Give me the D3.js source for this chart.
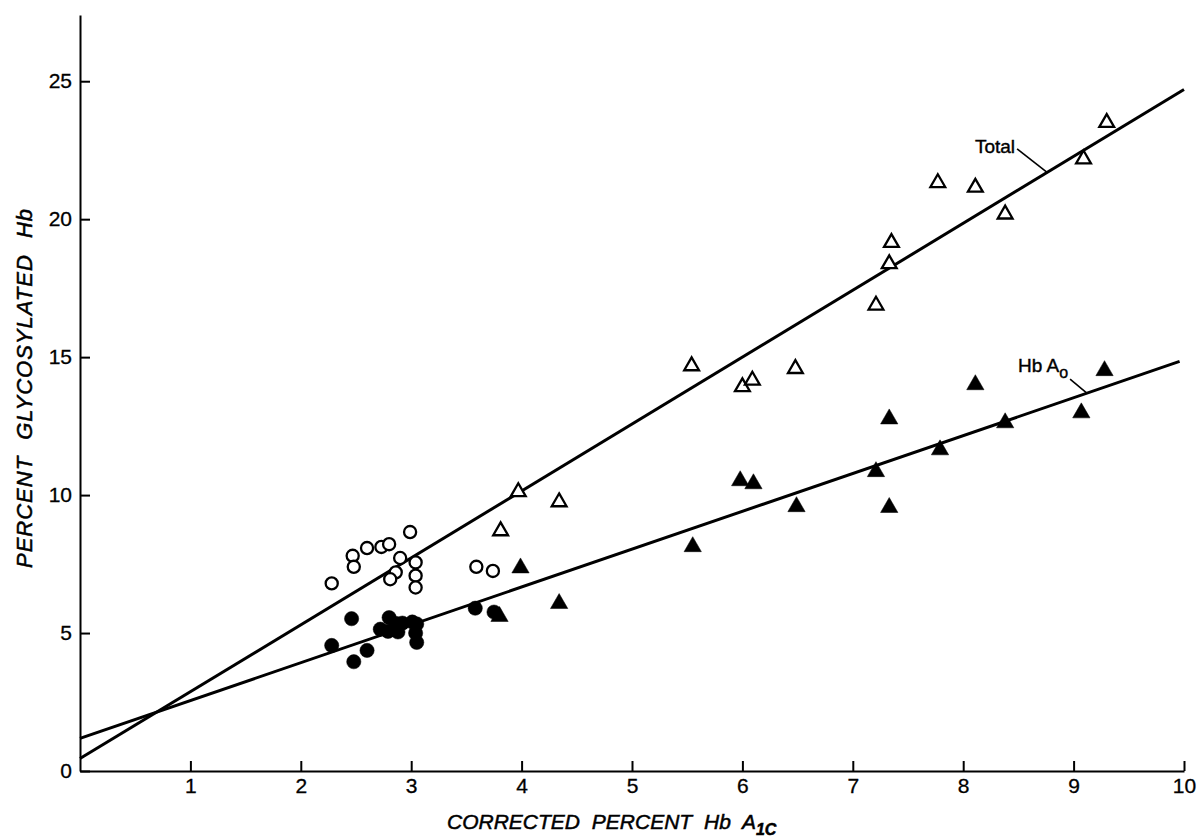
<!DOCTYPE html>
<html>
<head>
<meta charset="utf-8">
<script src="https://cdn.jsdelivr.net/npm/d3@7"></script>
<style>
  body { margin: 0; background: #fff; }
  svg { display: block; }
</style>
</head>
<body>
<div id="chart"></div>
<script>
// data: [corrected % Hb A1c, % glycosylated Hb]
var openCircles = [
    [2.28, 6.80], [2.47, 7.80], [2.48, 7.40], [2.60, 8.08], [2.73, 8.12],
    [2.80, 8.22], [2.99, 8.66], [2.90, 7.72], [2.86, 7.20], [2.81, 6.95],
    [3.04, 7.56], [3.04, 7.08], [3.04, 6.65], [3.59, 7.40], [3.74, 7.25]
];
var filledCircles = [
    [2.28, 4.55], [2.46, 5.52], [2.48, 3.96], [2.60, 4.37], [2.72, 5.14],
    [2.80, 5.56], [2.79, 5.06], [2.86, 5.35], [2.88, 5.04], [2.92, 5.36],
    [3.01, 5.40], [3.05, 5.33], [3.04, 5.00], [3.05, 4.66], [3.58, 5.90],
    [3.75, 5.76]
];
var openTriangles = [
    [3.81, 8.70], [3.97, 10.12], [4.34, 9.75], [5.54, 14.68], [6.00, 13.92],
    [6.09, 14.16], [6.48, 14.58], [7.21, 16.88], [7.33, 18.38], [7.35, 19.15],
    [7.77, 21.32], [8.11, 21.15], [8.38, 20.18], [9.09, 22.18], [9.30, 23.50]
];
var filledTriangles = [
    [3.80, 5.60], [3.99, 7.36], [4.34, 6.07], [5.55, 8.13], [5.98, 10.52],
    [6.10, 10.41], [6.49, 9.58], [7.21, 10.85], [7.33, 9.55], [7.33, 12.76],
    [7.79, 11.64], [8.11, 14.00], [8.38, 12.62], [9.07, 12.98], [9.28, 14.51]
];

// regression lines: intercept and slope
var fitNames = ["Total", "Hb Ao"];
var fitIntercepts = [0.45, 1.18];
var fitSlopes = [2.425, 1.372];
var fitEnds = [10.0, 9.96];

// where the line labels sit (data units): text end, leader end x
var labelTextX = [8.47, 8.95];
var labelTextY = [22.40, 14.45];
var leaderStartY = [22.55, 14.20];
var leaderEndX = [8.76, 9.12];

var xTicks = [1, 2, 3, 4, 5, 6, 7, 8, 9, 10];
var yTicks = [0, 5, 10, 15, 20, 25];

var width = 1199, height = 839;

var x = d3.scaleLinear().domain([0, 10]).range([80, 1184]);
var y = d3.scaleLinear().domain([0, 27.4]).range([771, 15]);

var svg = d3.select("#chart").append("svg")
    .attr("width", width)
    .attr("height", height)
    .style("background", "#fff");

// y axis, ticks pointing into the plot
var yAxis = svg.append("g")
    .attr("transform", "translate(" + x(0) + ",0)")
    .call(d3.axisLeft(y).tickValues(yTicks).tickSizeInner(-10).tickSizeOuter(0).tickPadding(8));

// x axis
var xAxis = svg.append("g")
    .attr("transform", "translate(0," + y(0) + ")")
    .call(d3.axisBottom(x).tickValues(xTicks).tickSizeInner(-10).tickSizeOuter(0).tickPadding(7));

[yAxis, xAxis].forEach(function(ax) {
    ax.select(".domain").attr("stroke", "#000").attr("stroke-width", 2);
    ax.selectAll(".tick line").attr("stroke", "#000").attr("stroke-width", 2);
    ax.selectAll(".tick text")
        .attr("fill", "#000")
        .attr("stroke", "#000")
        .attr("stroke-width", 0.3)
        .style("font-family", "'Liberation Sans', Arial, sans-serif")
        .style("font-size", "21px");
});

// regression lines
fitNames.forEach(function(name, i) {
    svg.append("line")
        .attr("x1", x(0))
        .attr("y1", y(fitIntercepts[i]))
        .attr("x2", x(fitEnds[i]))
        .attr("y2", y(fitIntercepts[i] + fitSlopes[i] * fitEnds[i]))
        .attr("stroke", "#000")
        .attr("stroke-width", 3);
});

// line labels with leaders
var labelFont = "'Liberation Sans', Arial, sans-serif";
fitNames.forEach(function(name, i) {
    var t = svg.append("text")
        .attr("x", x(labelTextX[i]))
        .attr("y", y(labelTextY[i]))
        .attr("text-anchor", "end")
        .attr("stroke", "#000")
        .attr("stroke-width", 0.4)
        .style("font-family", labelFont)
        .style("font-size", "19px");
    if (name == "Hb Ao") {
        t.append("tspan").text("Hb A");
        t.append("tspan").attr("dy", 6).style("font-size", "16px").text("o");
    }
    else {
        t.text(name);
    }
    var ex = leaderEndX[i];
    svg.append("line")
        .attr("x1", x(labelTextX[i]) + 2)
        .attr("y1", y(leaderStartY[i]))
        .attr("x2", x(ex))
        .attr("y2", y(fitIntercepts[i] + fitSlopes[i] * ex))
        .attr("stroke", "#000")
        .attr("stroke-width", 1.6);
});

// markers
function drawPoints(data, type, size, filled) {
    svg.append("g").selectAll("path")
        .data(data)
        .enter().append("path")
        .attr("transform", function(d) { return "translate(" + x(d[0]) + "," + y(d[1]) + ")"; })
        .attr("d", d3.symbol().type(type).size(size))
        .attr("fill", filled ? "#000" : "#fff")
        .attr("stroke", "#000")
        .attr("stroke-width", filled ? 0.5 : 2.3)
        .attr("stroke-linejoin", "miter");
}
drawPoints(openCircles, d3.symbolCircle, 115, false);
drawPoints(filledCircles, d3.symbolCircle, 160, true);
drawPoints(openTriangles, d3.symbolTriangle, 95, false);
drawPoints(filledTriangles, d3.symbolTriangle, 130, true);

// axis titles
var titleFont = "'Liberation Sans', Arial, sans-serif";
var xt = svg.append("text")
    .attr("x", 447)
    .attr("y", 829)
    .attr("stroke", "#000")
    .attr("stroke-width", 0.5)
    .style("font-family", titleFont)
    .style("font-style", "italic")
    .style("font-size", "21px")
    .style("word-spacing", "6px");
xt.append("tspan").text("CORRECTED PERCENT Hb A");
xt.append("tspan").attr("dy", 6).style("font-size", "16px").style("font-weight", "bold").text("1C");

svg.append("text")
    .attr("transform", "translate(32,388) rotate(-90)")
    .attr("text-anchor", "middle")
    .attr("stroke", "#000")
    .attr("stroke-width", 0.5)
    .style("font-family", titleFont)
    .style("font-style", "italic")
    .style("font-size", "22px")
    .style("letter-spacing", "1px")
    .style("word-spacing", "9px")
    .text("PERCENT GLYCOSYLATED Hb");
</script>
</body>
</html>
